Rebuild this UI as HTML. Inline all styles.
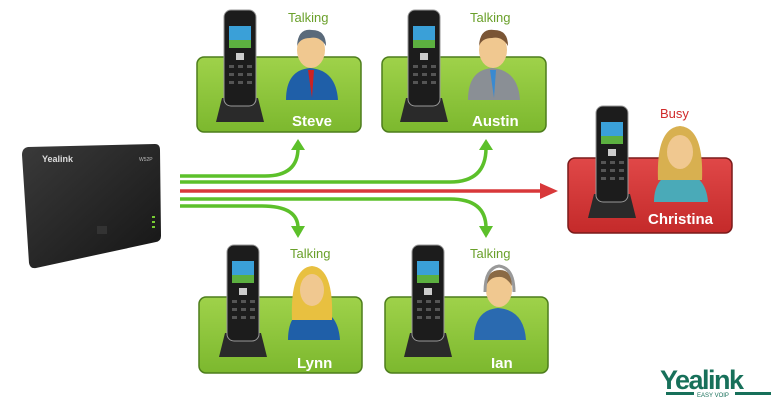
<!DOCTYPE html>
<html><head><meta charset="utf-8"><style>
html,body{margin:0;padding:0;background:#fff;width:778px;height:400px;overflow:hidden}
svg{display:block}
text{font-family:"Liberation Sans",sans-serif}
</style></head><body>
<svg width="778" height="400" viewBox="0 0 778 400" xmlns="http://www.w3.org/2000/svg">
<defs>
<linearGradient id="g" x1="0" y1="0" x2="0" y2="1"><stop offset="0" stop-color="#9fd24a"/><stop offset="1" stop-color="#7cb82e"/></linearGradient>
<linearGradient id="r" x1="0" y1="0" x2="0" y2="1"><stop offset="0" stop-color="#e04848"/><stop offset="1" stop-color="#c42a2a"/></linearGradient>
<linearGradient id="bk" x1="0" y1="0" x2="1" y2="1"><stop offset="0" stop-color="#3a3a3a"/><stop offset="1" stop-color="#151515"/></linearGradient>
<g id="phone">
  <path d="M-18 88 L18 88 L24 112 L-24 112 Z" fill="#2a2a2a"/>
  <rect x="-16" y="0" width="32" height="96" rx="7" fill="#1c1c1c" stroke="#999" stroke-width="1"/>
  <rect x="-11" y="16" width="22" height="22" fill="#3aa0d8"/>
  <rect x="-11" y="30" width="22" height="8" fill="#5cb040"/>
  <rect x="-4" y="43" width="8" height="7" fill="#ccc"/>
  <g fill="#555"><rect x="-11" y="55" width="5" height="3"/><rect x="-2" y="55" width="5" height="3"/><rect x="7" y="55" width="5" height="3"/>
  <rect x="-11" y="63" width="5" height="3"/><rect x="-2" y="63" width="5" height="3"/><rect x="7" y="63" width="5" height="3"/>
  <rect x="-11" y="71" width="5" height="3"/><rect x="-2" y="71" width="5" height="3"/><rect x="7" y="71" width="5" height="3"/></g>
</g>
</defs>

<!-- base station -->
<path d="M28 147 L155 144 Q160 144 160 150 L161 236 Q161 241 156 242 L36 268 Q30 269 29 263 L22 155 Q22 148 28 147 Z" fill="url(#bk)"/>
<text x="42" y="162" fill="#ddd" font-size="9" font-weight="bold">Yealink</text>
<text x="139" y="161" fill="#bbb" font-size="5">W52P</text>
<rect x="97" y="226" width="10" height="8" fill="#333"/>
<g fill="#7c3"><rect x="152" y="216" width="3" height="2"/><rect x="152" y="221" width="3" height="2"/><rect x="152" y="226" width="3" height="2"/></g>

<!-- connectors -->
<g fill="none" stroke="#5cc02a" stroke-width="3.5">
<path d="M180 176 L265 176 Q298 176 298 148"/>
<path d="M180 182 L450 182 Q486 182 486 148"/>
<path d="M180 199 L450 199 Q486 199 486 228"/>
<path d="M180 206 L262 206 Q298 206 298 228"/>
</g>
<g fill="#5cc02a">
<path d="M291 150 L298 139 L305 150 Z"/><path d="M479 150 L486 139 L493 150 Z"/>
<path d="M291 226 L298 238 L305 226 Z"/><path d="M479 226 L486 238 L493 226 Z"/>
</g>
<path d="M180 191 L545 191" stroke="#d8383a" stroke-width="3.5"/>
<path d="M540 183 L558 191 L540 199 Z" fill="#d8383a"/>

<!-- boxes -->
<rect x="197" y="57" width="164" height="75" rx="7" fill="url(#g)" stroke="#4d7d1c" stroke-width="1.5"/>
<rect x="382" y="57" width="164" height="75" rx="7" fill="url(#g)" stroke="#4d7d1c" stroke-width="1.5"/>
<rect x="199" y="297" width="163" height="76" rx="7" fill="url(#g)" stroke="#4d7d1c" stroke-width="1.5"/>
<rect x="385" y="297" width="163" height="76" rx="7" fill="url(#g)" stroke="#4d7d1c" stroke-width="1.5"/>
<rect x="568" y="158" width="164" height="75" rx="7" fill="url(#r)" stroke="#7a1a1a" stroke-width="1.5"/>

<!-- phones -->
<use href="#phone" transform="translate(240,10)"/>
<use href="#phone" transform="translate(424,10)"/>
<use href="#phone" transform="translate(243,245)"/>
<use href="#phone" transform="translate(428,245)"/>
<use href="#phone" transform="translate(612,106)"/>

<!-- people -->
<g>
 <path d="M286 100 Q286 70 310 68 Q336 70 338 100 Z" fill="#1f5fa8"/>
 <ellipse cx="311" cy="50" rx="14" ry="18" fill="#f0c890"/><path d="M297 46 Q298 28 312 30 Q326 30 326 46 Q320 36 310 38 Q300 38 297 46Z" fill="#5a6a7a"/>
 <path d="M308 70 L314 70 L312 98 Z" fill="#c22"/>
</g>
<g>
 <path d="M468 100 Q468 70 492 68 Q518 70 520 100 Z" fill="#8a8f95"/>
 <ellipse cx="493" cy="50" rx="14" ry="18" fill="#f0c890"/><path d="M479 46 Q480 28 494 30 Q508 30 508 46 Q502 36 492 38 Q482 38 479 46Z" fill="#7a5535"/>
 <path d="M490 70 L496 70 L494 98 Z" fill="#3a8ad0"/>
</g>
<g>
 <path d="M288 340 Q288 310 312 308 Q338 310 340 340 Z" fill="#1f5fa8"/>
 <path d="M292 320 Q290 268 312 266 Q334 268 332 320 Z" fill="#e8c040"/>
 <ellipse cx="312" cy="290" rx="12" ry="16" fill="#f0c890"/>
</g>
<g>
 <path d="M474 340 Q474 310 498 308 Q524 310 526 340 Z" fill="#2a6ab0"/>
 <ellipse cx="499" cy="290" rx="13" ry="17" fill="#f0c890"/>
 <path d="M486 286 Q487 270 500 270 Q512 270 512 286 Q506 276 498 277 Q490 277 486 286Z" fill="#8a6a45"/>
 <path d="M485 292 Q485 268 499 266 Q514 268 514 292" fill="none" stroke="#999" stroke-width="3"/>
</g>
<g>
 <path d="M654 202 Q654 174 680 172 Q706 174 708 202 Z" fill="#4aaab8"/>
 <path d="M658 180 Q656 128 680 126 Q704 128 702 180 Z" fill="#d8b050"/>
 <ellipse cx="680" cy="152" rx="13" ry="17" fill="#f0c890"/>
</g>

<!-- labels -->
<g font-family="Liberation Sans" font-size="13" fill="#6aa02a">
<text x="288" y="22">Talking</text><text x="470" y="22">Talking</text>
<text x="290" y="258">Talking</text><text x="470" y="258">Talking</text>
</g>
<text x="660" y="118" font-size="13" fill="#d02a2a">Busy</text>
<g font-size="15" font-weight="bold" fill="#fff">
<text x="292" y="126">Steve</text><text x="472" y="126">Austin</text>
<text x="297" y="368">Lynn</text><text x="491" y="368">Ian</text>
<text x="648" y="224">Christina</text>
</g>

<!-- logo -->
<text x="660" y="389" font-size="27" font-weight="bold" fill="#17705a" letter-spacing="-1.5">Yealink</text>
<rect x="666" y="392" width="28" height="3" fill="#17705a"/><rect x="735" y="392" width="36" height="3" fill="#17705a"/>
<text x="697" y="397" font-size="6" fill="#17705a">EASY VOIP</text>
</svg>
</body></html>
